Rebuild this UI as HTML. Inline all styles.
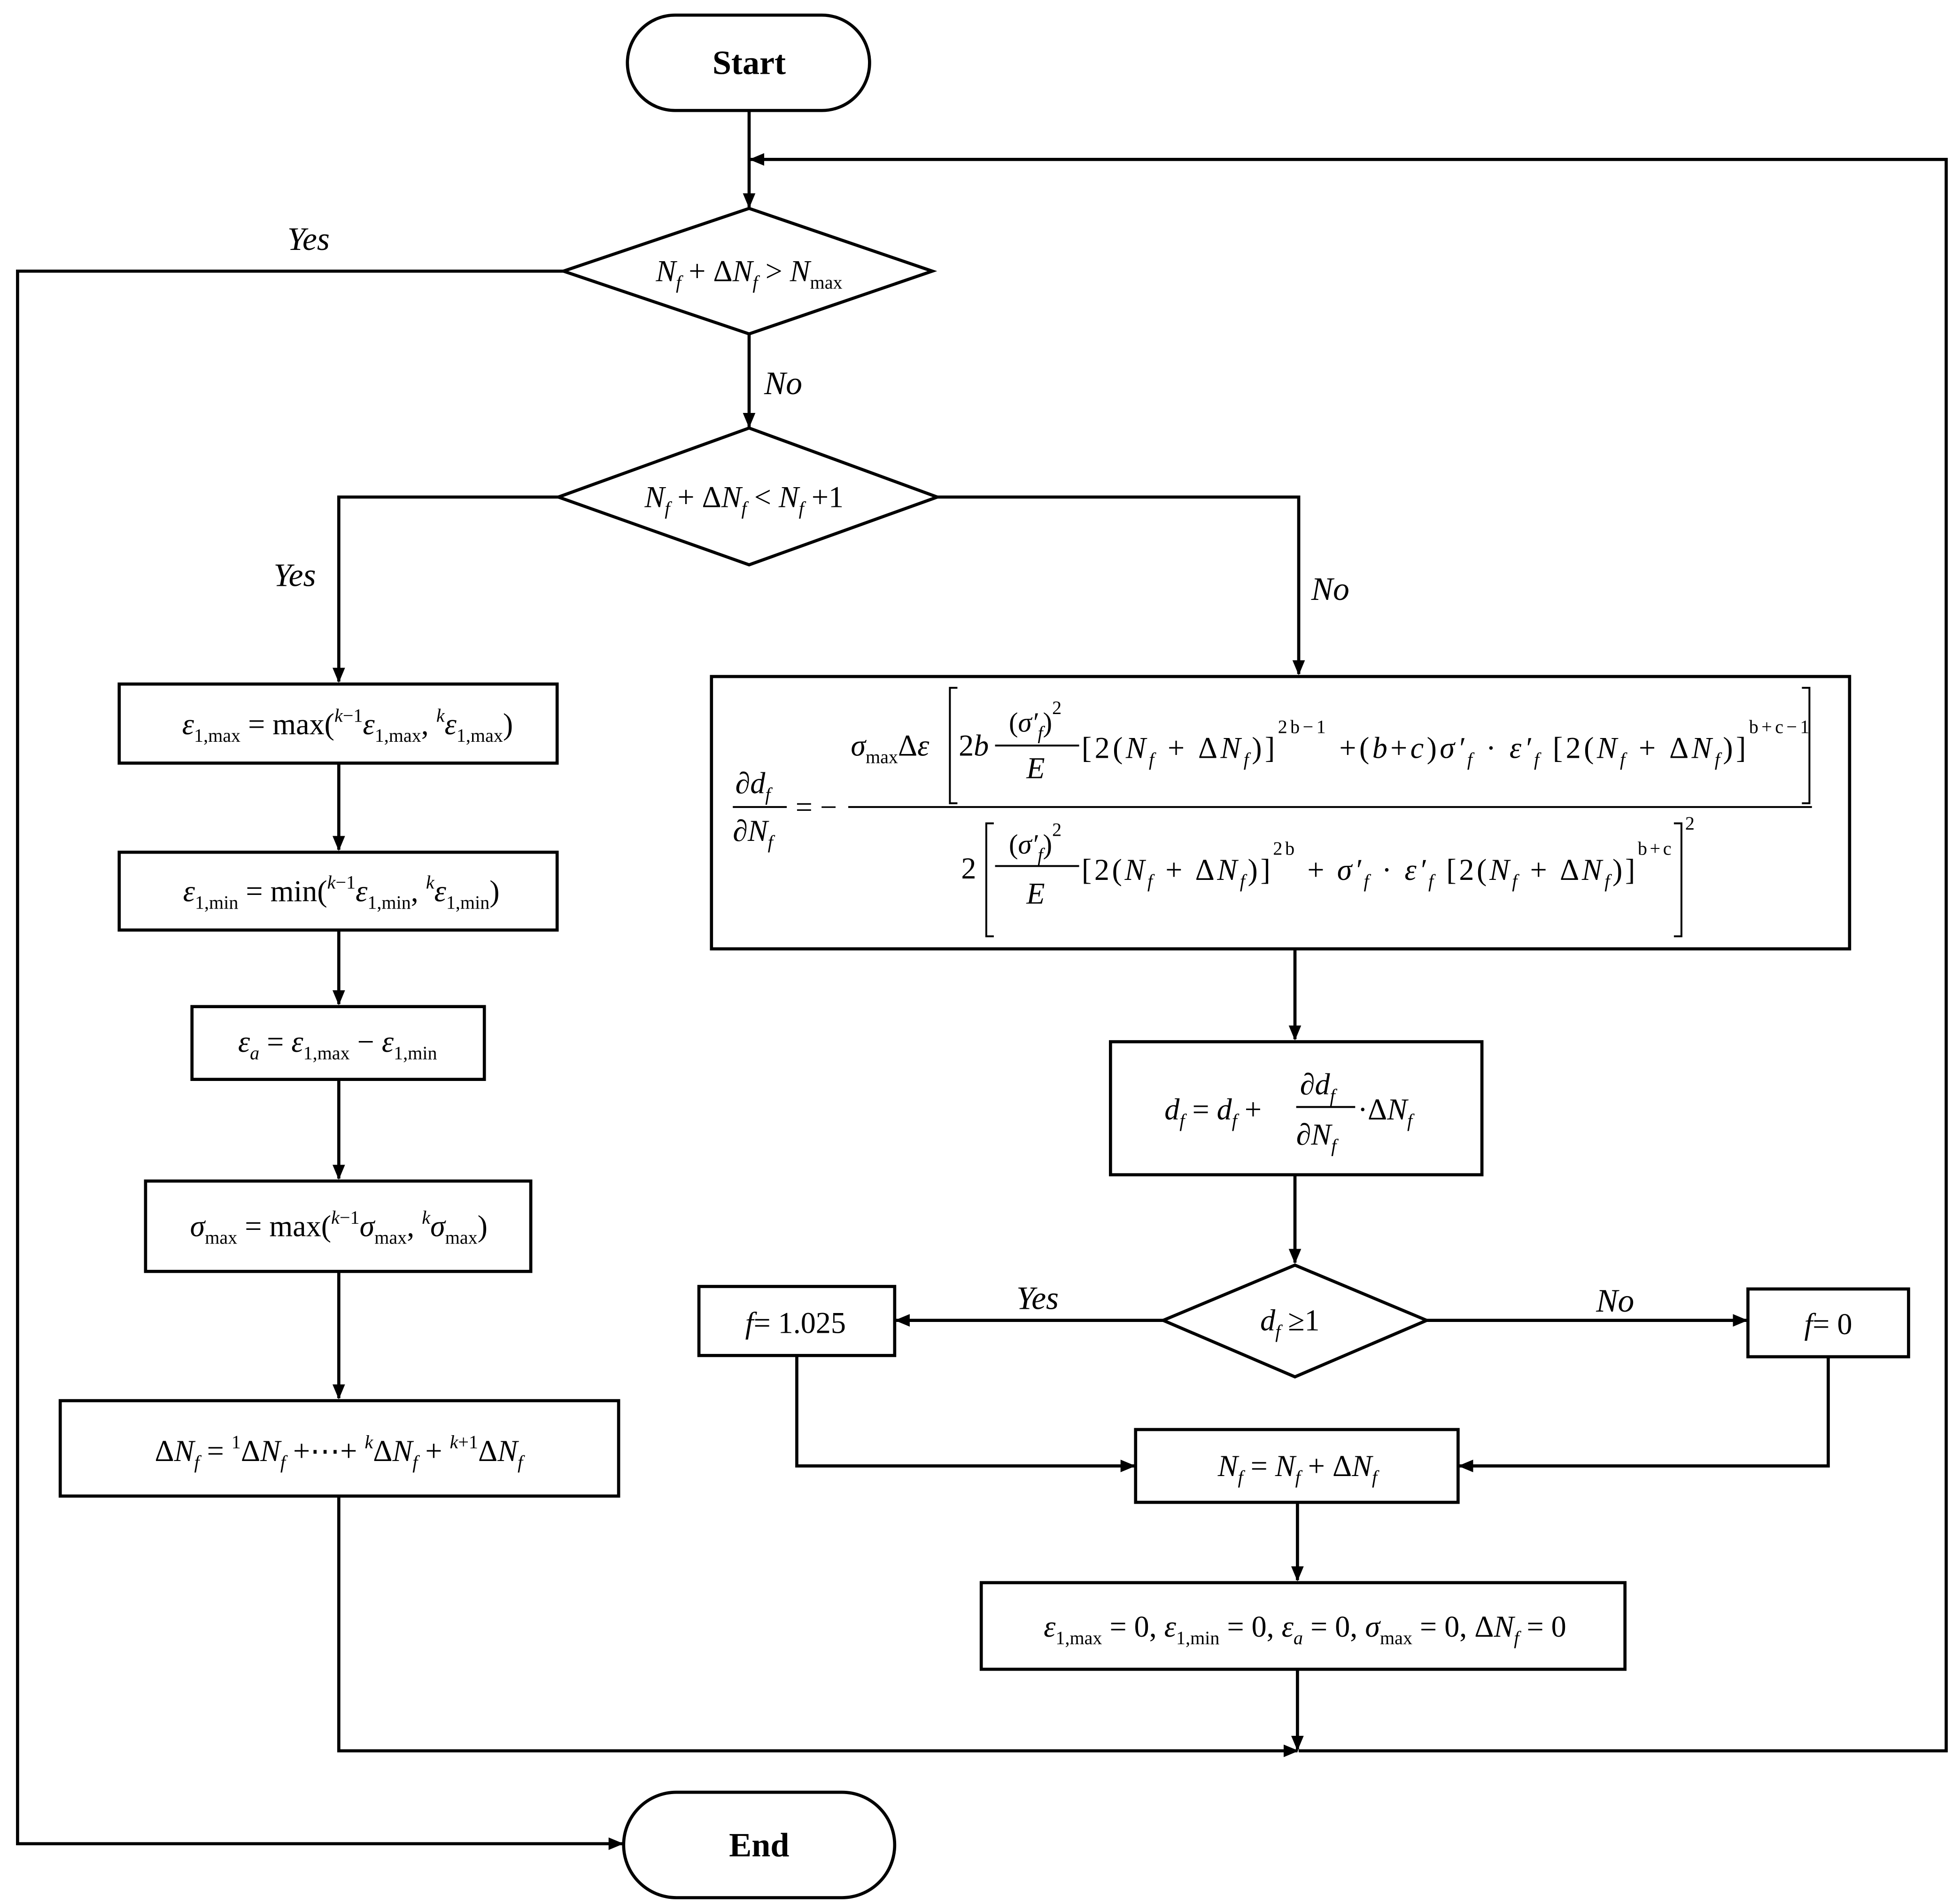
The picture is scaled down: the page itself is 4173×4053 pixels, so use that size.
<!DOCTYPE html>
<html><head><meta charset="utf-8"><style>
html,body{margin:0;padding:0;background:#fff;}
svg{display:block;}
text{font-family:"Liberation Serif",serif;fill:#000;}
.i{font-style:italic;}
.s{font-size:15px;}
</style></head><body>
<svg width="4173" height="4053" viewBox="0 0 1562 1517" xmlns="http://www.w3.org/2000/svg">
<defs><marker id="a" markerWidth="12" markerHeight="10" refX="11" refY="5" orient="auto" markerUnits="userSpaceOnUse"><path d="M0,0 L12,5 L0,10 z" fill="#000"/></marker></defs>
<g fill="none" stroke="#000" stroke-width="2.5">
<rect x="500" y="12" width="193" height="76" rx="38"/>
<rect x="497" y="1428" width="216" height="84" rx="42"/>
<polygon points="449,216 597,166 743,216 597,266"/>
<polygon points="445,396 597,341 747,396 597,450"/>
<polygon points="927,1052 1032,1008 1137,1052 1032,1097"/>
<rect x="95" y="545" width="349" height="63"/>
<rect x="95" y="679" width="349" height="62"/>
<rect x="153" y="802" width="233" height="58"/>
<rect x="116" y="941" width="307" height="72"/>
<rect x="48" y="1116" width="445" height="76"/>
<rect x="567" y="539" width="907" height="217"/>
<rect x="885" y="830" width="296" height="106"/>
<rect x="557" y="1025" width="156" height="55"/>
<rect x="1393" y="1027" width="128" height="54"/>
<rect x="905" y="1139" width="257" height="58"/>
<rect x="782" y="1261" width="513" height="69"/>
</g>
<g fill="none" stroke="#000" stroke-width="2.5" marker-end="url(#a)">
<path d="M597,88 V165"/>
<path d="M1035,1395 H1551 V127 H598"/>
<path d="M449,216 H14 V1469 H496"/>
<path d="M597,266 V340"/>
<path d="M445,396 H270 V543"/>
<path d="M747,396 H1035 V537"/>
<path d="M270,608 V677"/>
<path d="M270,741 V800"/>
<path d="M270,860 V939"/>
<path d="M270,1013 V1114"/>
<path d="M270,1192 V1395 H1034"/>
<path d="M1032,756 V828"/>
<path d="M1032,936 V1006"/>
<path d="M927,1052 H714"/>
<path d="M1137,1052 H1392"/>
<path d="M635,1080 V1168 H904"/>
<path d="M1457,1081 V1168 H1163"/>
<path d="M1034,1197 V1259"/>
<path d="M1034,1330 V1394"/>
</g>
<text x="597" y="59" font-size="27" font-weight="bold" text-anchor="middle">Start</text>
<text x="605" y="1479" font-size="27" font-weight="bold" text-anchor="middle">End</text>
<g font-size="26" class="i">
<text x="229" y="199" class="i">Yes</text>
<text x="609" y="314" class="i">No</text>
<text x="218" y="467" class="i">Yes</text>
<text x="1045" y="478" class="i">No</text>
<text x="810" y="1043" class="i">Yes</text>
<text x="1272" y="1045" class="i">No</text>
</g>
<g font-size="24">
<text x="597" y="224" text-anchor="middle"><tspan class="i">N</tspan><tspan class="i s" dy="6">f</tspan><tspan dy="-6"> + Δ</tspan><tspan class="i">N</tspan><tspan class="i s" dy="6">f</tspan><tspan dy="-6"> &gt; </tspan><tspan class="i">N</tspan><tspan class="s" dy="6">max</tspan></text>
<text x="593" y="404" text-anchor="middle"><tspan class="i">N</tspan><tspan class="i s" dy="6">f</tspan><tspan dy="-6"> + Δ</tspan><tspan class="i">N</tspan><tspan class="i s" dy="6">f</tspan><tspan dy="-6"> &lt; </tspan><tspan class="i">N</tspan><tspan class="i s" dy="6">f</tspan><tspan dy="-6"> +1</tspan></text>
<text x="277" y="585" text-anchor="middle"><tspan class="i">ε</tspan><tspan class="s" dy="6">1,max</tspan><tspan dy="-6"> = max</tspan><tspan>(</tspan><tspan class="i s" dy="-10">k</tspan><tspan class="s">−1</tspan><tspan class="i" dy="10">ε</tspan><tspan class="s" dy="6">1,max</tspan><tspan dy="-6">, </tspan><tspan class="i s" dy="-10">k</tspan><tspan class="i" dy="10">ε</tspan><tspan class="s" dy="6">1,max</tspan><tspan dy="-6">)</tspan></text>
<text x="272" y="718" text-anchor="middle"><tspan class="i">ε</tspan><tspan class="s" dy="6">1,min</tspan><tspan dy="-6"> = min</tspan><tspan>(</tspan><tspan class="i s" dy="-10">k</tspan><tspan class="s">−1</tspan><tspan class="i" dy="10">ε</tspan><tspan class="s" dy="6">1,min</tspan><tspan dy="-6">, </tspan><tspan class="i s" dy="-10">k</tspan><tspan class="i" dy="10">ε</tspan><tspan class="s" dy="6">1,min</tspan><tspan dy="-6">)</tspan></text>
<text x="269" y="838" text-anchor="middle"><tspan class="i">ε</tspan><tspan class="i s" dy="6">a</tspan><tspan dy="-6"> = </tspan><tspan class="i">ε</tspan><tspan class="s" dy="6">1,max</tspan><tspan dy="-6"> − </tspan><tspan class="i">ε</tspan><tspan class="s" dy="6">1,min</tspan></text>
<text x="270" y="985" text-anchor="middle"><tspan class="i">σ</tspan><tspan class="s" dy="6">max</tspan><tspan dy="-6"> = max</tspan><tspan>(</tspan><tspan class="i s" dy="-10">k</tspan><tspan class="s">−1</tspan><tspan class="i" dy="10">σ</tspan><tspan class="s" dy="6">max</tspan><tspan dy="-6">, </tspan><tspan class="i s" dy="-10">k</tspan><tspan class="i" dy="10">σ</tspan><tspan class="s" dy="6">max</tspan><tspan dy="-6">)</tspan></text>
<text x="270" y="1164" text-anchor="middle"><tspan>Δ</tspan><tspan class="i">N</tspan><tspan class="i s" dy="6">f</tspan><tspan dy="-6"> = </tspan><tspan class="s" dy="-10">1</tspan><tspan dy="10">Δ</tspan><tspan class="i">N</tspan><tspan class="i s" dy="6">f</tspan><tspan dy="-6"> +⋯+ </tspan><tspan class="i s" dy="-10">k</tspan><tspan dy="10">Δ</tspan><tspan class="i">N</tspan><tspan class="i s" dy="6">f</tspan><tspan dy="-6"> + </tspan><tspan class="i s" dy="-10">k</tspan><tspan class="s">+1</tspan><tspan dy="10">Δ</tspan><tspan class="i">N</tspan><tspan class="i s" dy="6">f</tspan></text>
<!-- big formula -->
<text x="586" y="632"><tspan>∂</tspan><tspan class="i">d</tspan><tspan class="i s" dy="6">f</tspan></text>
<line x1="584" y1="643" x2="627" y2="643" stroke="#000" stroke-width="1.5"/>
<text x="584" y="670"><tspan>∂</tspan><tspan class="i">N</tspan><tspan class="i s" dy="6">f</tspan></text>
<text x="634" y="651">= −</text>
<line x1="676" y1="643" x2="1444" y2="643" stroke="#000" stroke-width="1.5"/>
<text x="678" y="602"><tspan class="i">σ</tspan><tspan class="s" dy="6">max</tspan><tspan dy="-6">Δ</tspan><tspan class="i">ε</tspan></text>
<text x="764" y="602">2<tspan class="i">b</tspan></text>
<text x="804" y="583" font-size="22"><tspan>(</tspan><tspan class="i">σ′</tspan><tspan class="i s" dy="6">f</tspan><tspan dy="-6">)</tspan><tspan class="s" dy="-14">2</tspan></text>
<line x1="793" y1="594" x2="860" y2="594" stroke="#000" stroke-width="1.5"/>
<text x="818" y="620" class="i">E</text>
<text x="862" y="604" textLength="580"><tspan>[2(</tspan><tspan class="i">N</tspan><tspan class="i s" dy="6">f</tspan><tspan dy="-6"> + Δ</tspan><tspan class="i">N</tspan><tspan class="i s" dy="6">f</tspan><tspan dy="-6">)]</tspan><tspan class="s" dy="-20">2b−1</tspan><tspan dy="20"> +(</tspan><tspan class="i">b</tspan><tspan>+</tspan><tspan class="i">c</tspan><tspan>)</tspan><tspan class="i">σ′</tspan><tspan class="i s" dy="6">f</tspan><tspan dy="-6"> · </tspan><tspan class="i">ε′</tspan><tspan class="i s" dy="6">f</tspan><tspan dy="-6"> [2(</tspan><tspan class="i">N</tspan><tspan class="i s" dy="6">f</tspan><tspan dy="-6"> + Δ</tspan><tspan class="i">N</tspan><tspan class="i s" dy="6">f</tspan><tspan dy="-6">)]</tspan><tspan class="s" dy="-20">b+c−1</tspan></text>
<path d="M763,548 h-6 v92 h6 M1436,548 h6 v92 h-6" fill="none" stroke="#000" stroke-width="1.5"/>
<text x="766" y="700">2</text>
<path d="M792,656 h-6 v90 h6 M1334,656 h6 v90 h-6" fill="none" stroke="#000" stroke-width="1.5"/>
<text x="1343" y="661" class="s">2</text>
<text x="804" y="680" font-size="22"><tspan>(</tspan><tspan class="i">σ′</tspan><tspan class="i s" dy="6">f</tspan><tspan dy="-6">)</tspan><tspan class="s" dy="-14">2</tspan></text>
<line x1="793" y1="690" x2="860" y2="690" stroke="#000" stroke-width="1.5"/>
<text x="818" y="720" class="i">E</text>
<text x="862" y="701" textLength="470"><tspan>[2(</tspan><tspan class="i">N</tspan><tspan class="i s" dy="6">f</tspan><tspan dy="-6"> + Δ</tspan><tspan class="i">N</tspan><tspan class="i s" dy="6">f</tspan><tspan dy="-6">)]</tspan><tspan class="s" dy="-20">2b</tspan><tspan dy="20"> + </tspan><tspan class="i">σ′</tspan><tspan class="i s" dy="6">f</tspan><tspan dy="-6"> · </tspan><tspan class="i">ε′</tspan><tspan class="i s" dy="6">f</tspan><tspan dy="-6"> [2(</tspan><tspan class="i">N</tspan><tspan class="i s" dy="6">f</tspan><tspan dy="-6"> + Δ</tspan><tspan class="i">N</tspan><tspan class="i s" dy="6">f</tspan><tspan dy="-6">)]</tspan><tspan class="s" dy="-20">b+c</tspan></text>
<!-- df box -->
<text x="928" y="892"><tspan class="i">d</tspan><tspan class="i s" dy="6">f</tspan><tspan dy="-6"> = </tspan><tspan class="i">d</tspan><tspan class="i s" dy="6">f</tspan><tspan dy="-6"> +</tspan></text>
<text x="1036" y="872">∂<tspan class="i">d</tspan><tspan class="i s" dy="6">f</tspan></text>
<line x1="1033" y1="882" x2="1080" y2="882" stroke="#000" stroke-width="1.5"/>
<text x="1033" y="912">∂<tspan class="i">N</tspan><tspan class="i s" dy="6">f</tspan></text>
<text x="1082" y="892">·Δ<tspan class="i">N</tspan><tspan class="i s" dy="6">f</tspan></text>
<text x="1028" y="1060" text-anchor="middle"><tspan class="i">d</tspan><tspan class="i s" dy="6">f</tspan><tspan dy="-6"> ≥1</tspan></text>
<text x="634" y="1062" text-anchor="middle"><tspan class="i">f</tspan>= 1.025</text>
<text x="1457" y="1063" text-anchor="middle"><tspan class="i">f</tspan>= 0</text>
<text x="1034" y="1176" text-anchor="middle"><tspan class="i">N</tspan><tspan class="i s" dy="6">f</tspan><tspan dy="-6"> = </tspan><tspan class="i">N</tspan><tspan class="i s" dy="6">f</tspan><tspan dy="-6"> + Δ</tspan><tspan class="i">N</tspan><tspan class="i s" dy="6">f</tspan></text>
<text x="1040" y="1304" text-anchor="middle"><tspan class="i">ε</tspan><tspan class="s" dy="6">1,max</tspan><tspan dy="-6"> = 0, </tspan><tspan class="i">ε</tspan><tspan class="s" dy="6">1,min</tspan><tspan dy="-6"> = 0, </tspan><tspan class="i">ε</tspan><tspan class="i s" dy="6">a</tspan><tspan dy="-6"> = 0, </tspan><tspan class="i">σ</tspan><tspan class="s" dy="6">max</tspan><tspan dy="-6"> = 0, Δ</tspan><tspan class="i">N</tspan><tspan class="i s" dy="6">f</tspan><tspan dy="-6"> = 0</tspan></text>
</g>
</svg>
</body></html>
